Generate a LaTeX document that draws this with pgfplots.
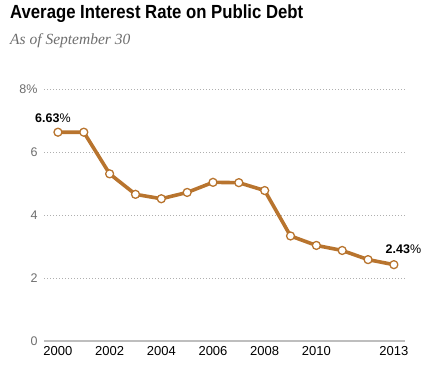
\documentclass[border=0pt]{standalone}
\usepackage{pgfplots}
\pgfplotsset{compat=1.18}
\usepackage{fontspec}
\setmainfont{Liberation Sans}
\newfontfamily\subfont{Liberation Serif}
\definecolor{lineor}{RGB}{184,116,46}
\definecolor{labgray}{RGB}{110,110,110}
\definecolor{gridgray}{RGB}{175,175,175}
\definecolor{basegray}{RGB}{190,190,190}
\begin{document}
\begin{tikzpicture}
\useasboundingbox (0pt,0pt) rectangle (433pt,371pt);
\node[anchor=base west, inner sep=0] at (10pt,352.5pt) {\scalebox{0.88}[1]{\fontsize{19}{21}\selectfont\bfseries Average Interest Rate on Public Debt}};
\node[anchor=base west, inner sep=0, text=labgray] at (10pt,326pt) {\fontsize{15.5}{17}\selectfont\subfont\itshape As of September 30};
\begin{axis}[
  at={(44pt,29.7pt)}, anchor=south west,
  scale only axis, width=361pt, height=252.3pt,
  xmin=1999.46, xmax=2013.43, ymin=0, ymax=8,
  axis line style={draw=none},
  tick style={draw=none},
  xtick={2000,2002,2004,2006,2008,2010,2013},
  xticklabels={2000,2002,2004,2006,2008,2010,2013},
  ytick={0,2,4,6,8},
  yticklabels={0,2,4,6,8\%},
  ymajorgrids,
  major grid style={gridgray, line width=0.7pt, dash pattern=on 0.7pt off 2.3pt},
  /pgf/number format/assume math mode=true,
  xticklabel style={font=\fontsize{13}{15}\selectfont, yshift=-2pt},
  yticklabel style={font=\fontsize{12.5}{14}\selectfont, text=labgray, xshift=-3pt},
  clip=false,
]
\draw[basegray, line width=2pt] (rel axis cs:0,0) -- (rel axis cs:1,0);
\addplot[lineor, line width=3.6pt, line join=round, mark=*, mark size=4pt,
  mark options={fill=white, draw=lineor, line width=1.3pt}]
coordinates {
(2000,6.63) (2001,6.63) (2002,5.31) (2003,4.66) (2004,4.52) (2005,4.72)
(2006,5.04) (2007,5.03) (2008,4.78) (2009,3.34) (2010,3.04) (2011,2.88)
(2012,2.59) (2013,2.43)
};
\node[xshift=-5pt, yshift=14pt, font=\fontsize{12.5}{14}\selectfont] at (axis cs:2000,6.63) {\textbf{6.63}\%};
\node[xshift=9.5pt, yshift=15pt, font=\fontsize{12.5}{14}\selectfont] at (axis cs:2013,2.43) {\textbf{2.43}\%};
\end{axis}
\end{tikzpicture}
\end{document}
